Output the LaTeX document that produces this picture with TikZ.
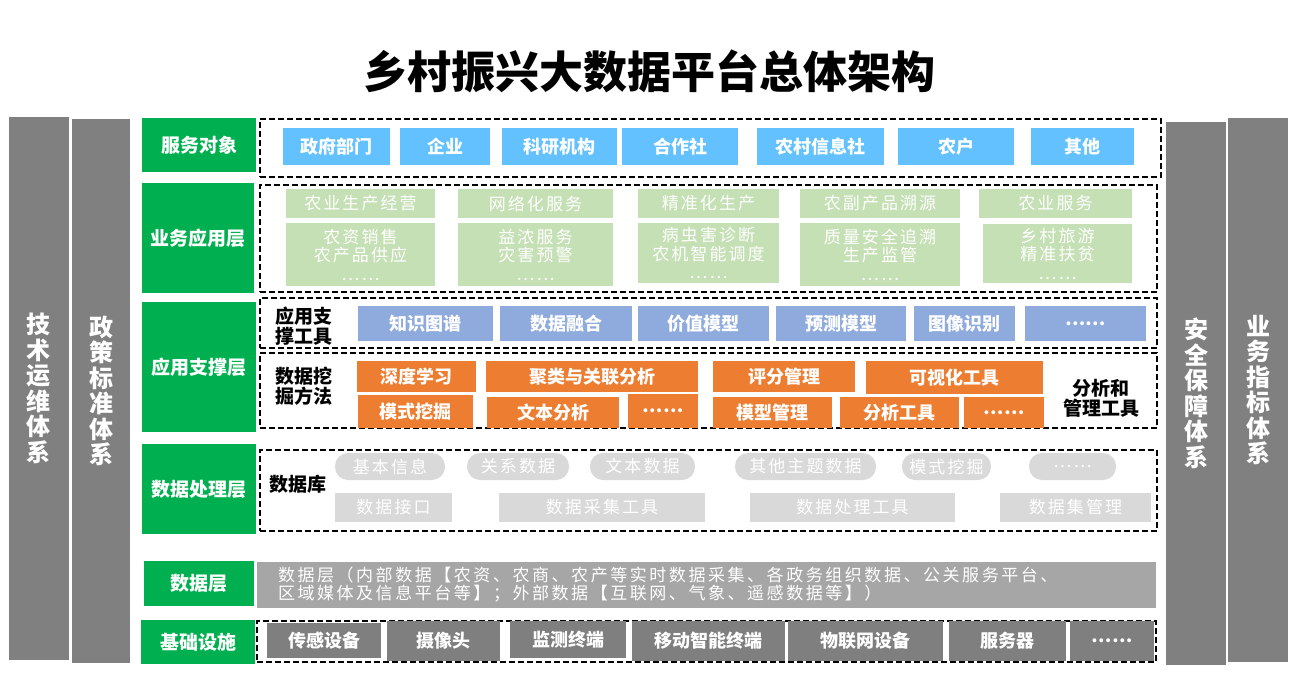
\documentclass[tikz,border=0pt]{standalone}
\usepackage{fontspec}
\setmainfont{Noto Sans CJK SC}
\newfontfamily\spaced[LetterSpace=12]{Noto Sans CJK SC}
\newfontfamily\spacedwide[LetterSpace=15]{Noto Sans CJK SC}
\definecolor{colgray}{HTML}{808080}
\definecolor{labgreen}{HTML}{00B050}
\definecolor{skyblue}{HTML}{63C1FF}
\definecolor{lgreen}{HTML}{C5E0B4}
\definecolor{bluegray}{HTML}{8FAADC}
\definecolor{orangebox}{HTML}{ED7D31}
\definecolor{pillgray}{HTML}{D9D9D9}
\definecolor{datagray}{HTML}{A6A6A6}
\definecolor{infragray}{HTML}{7F7F7F}
\tikzset{
  every node/.style={inner sep=0pt, outer sep=0pt},
  gcol/.style={fill=colgray, text=white, align=center, font=\fontsize{24}{25.5}\selectfont\bfseries},
  glab/.style={fill=labgreen, text=white, font=\fontsize{19}{21}\selectfont\bfseries},
  dbox/.style={draw=black, dash pattern=on 6pt off 3pt, line width=1.4pt},
  sbox/.style={fill=skyblue, text=white, font=\fontsize{18}{20}\selectfont\bfseries},
  lgbox/.style={fill=lgreen, text=white, align=center, font=\fontsize{17}{18.5}\selectfont\spaced},
  bgbox/.style={fill=bluegray, text=white, font=\fontsize{18}{20}\selectfont\bfseries},
  obox/.style={fill=orangebox, text=white, font=\fontsize{18}{20}\selectfont\bfseries},
  pill/.style={fill=pillgray, text=white, rounded corners=13pt, font=\fontsize{17}{19}\selectfont\spaced},
  prect/.style={fill=pillgray, text=white, font=\fontsize{17}{19}\selectfont\spaced},
  ibox/.style={fill=infragray, text=white, font=\fontsize{18}{20}\selectfont\bfseries},
  blab/.style={text=black, align=center, font=\fontsize{19}{20}\selectfont\bfseries},
}
\newcommand\mybox[7]{\node[#6, minimum width={(#4)-(#2)}, minimum height={(#5)-(#3)}] (#1) at ({((#2)+(#4))/2},{((#3)+(#5))/2}) {#7};}
\begin{document}
\begin{tikzpicture}[x=1pt,y=-1pt]
\useasboundingbox (0,0) rectangle (1294,699);
% title
\node[font=\fontsize{44}{48}\selectfont\bfseries] (title) at (649,71) {乡村振兴大数据平台总体架构};
% side columns
\mybox{c1}{9}{117}{69}{660}{gcol}{技\\术\\运\\维\\体\\系}
\mybox{c2}{72}{119}{130}{663}{gcol}{政\\策\\标\\准\\体\\系}
\mybox{c3}{1166}{122}{1226}{665}{gcol}{安\\全\\保\\障\\体\\系}
\mybox{c4}{1228}{118}{1288}{662}{gcol}{业\\务\\指\\标\\体\\系}
% green labels
\mybox{l1}{142}{118}{256}{172}{glab}{服务对象}
\mybox{l2}{142}{183}{254}{293}{glab}{业务应用层}
\mybox{l3}{142}{302}{256}{432}{glab}{应用支撑层}
\mybox{l4}{142}{444}{256}{534}{glab}{数据处理层}
\mybox{l5}{144}{561}{254}{606}{glab}{数据层}
\mybox{l6}{141}{620}{255}{664}{glab}{基础设施}
% row 1
\mybox{d1}{260}{119}{1161}{177}{dbox}{}
\mybox{s1}{283}{128}{390}{165}{sbox}{政府部门}
\mybox{s2}{400}{128}{490}{165}{sbox}{企业}
\mybox{s3}{502}{128}{617}{165}{sbox}{科研机构}
\mybox{s4}{622}{128}{738}{165}{sbox}{合作社}
\mybox{s5}{757}{128}{884}{165}{sbox}{农村信息社}
\mybox{s6}{898}{128}{1014}{165}{sbox}{农户}
\mybox{s7}{1031}{128}{1134}{165}{sbox}{其他}
% row 2
\mybox{d2}{260}{185}{1157}{292}{dbox}{}
\mybox{a1}{286}{189}{435}{218}{lgbox}{农业生产经营}
\mybox{a2}{458}{189}{613}{218}{lgbox}{网络化服务}
\mybox{a3}{638}{189}{779}{218}{lgbox}{精准化生产}
\mybox{a4}{800}{189}{960}{218}{lgbox}{农副产品溯源}
\mybox{a5}{979}{189}{1132}{218}{lgbox}{农业服务}
\mybox{b1}{286}{223}{435}{286}{lgbox}{农资销售\\农产品供应\\……}
\mybox{b2}{458}{223}{613}{286}{lgbox}{益浓服务\\灾害预警\\……}
\mybox{b3}{638}{223}{779}{283}{lgbox}{病虫害诊断\\农机智能调度\\……}
\mybox{b4}{800}{223}{960}{286}{lgbox}{质量安全追溯\\生产监管\\……}
\mybox{b5}{983}{224}{1132}{283}{lgbox}{乡村旅游\\精准扶贫\\……}
% row 3 upper
\mybox{d3}{260}{298}{1157}{348}{dbox}{}
\node[blab] (t1) at (304,326) {应用支\\撑工具};
\mybox{u1}{358}{306}{493}{341}{bgbox}{知识图谱}
\mybox{u2}{500}{306}{632}{341}{bgbox}{数据融合}
\mybox{u3}{638}{306}{769}{341}{bgbox}{价值模型}
\mybox{u4}{776}{306}{906}{341}{bgbox}{预测模型}
\mybox{u5}{914}{306}{1015}{341}{bgbox}{图像识别}
\mybox{u6}{1025}{306}{1146}{341}{bgbox}{……}
% row 3 lower
\mybox{d4}{260}{353}{1157}{428}{dbox}{}
\node[blab] (t2) at (304,386) {数据挖\\掘方法};
\mybox{o1}{357}{361}{476}{392}{obox}{深度学习}
\mybox{o2}{358}{395}{473}{428}{obox}{模式挖掘}
\mybox{o3}{486}{361}{698}{392}{obox}{聚类与关联分析}
\mybox{o4}{487}{397}{619}{428}{obox}{文本分析}
\mybox{o5}{628}{394}{698}{428}{obox}{……}
\mybox{o6}{713}{361}{855}{392}{obox}{评分管理}
\mybox{o7}{713}{397}{832}{428}{obox}{模型管理}
\mybox{o8}{866}{361}{1043}{394}{obox}{可视化工具}
\mybox{o9}{840}{397}{959}{428}{obox}{分析工具}
\mybox{o10}{964}{397}{1044}{428}{obox}{……}
\node[blab] (t3) at (1101,398) {分析和\\管理工具};
% row 4
\mybox{d5}{260}{450}{1157}{531}{dbox}{}
\node[blab] (t4) at (298,484) {数据库};
\mybox{p1}{335}{453}{445}{480}{pill}{基本信息}
\mybox{p2}{467}{453}{569}{480}{pill}{关系数据}
\mybox{p3}{590}{453}{695}{480}{pill}{文本数据}
\mybox{p4}{735}{453}{876}{480}{pill}{其他主题数据}
\mybox{p5}{902}{453}{991}{480}{pill}{模式挖掘}
\mybox{p6}{1029}{453}{1116}{480}{pill}{……}
\mybox{r1}{335}{493}{452}{522}{prect}{数据接口}
\mybox{r2}{499}{493}{705}{522}{prect}{数据采集工具}
\mybox{r3}{750}{493}{955}{522}{prect}{数据处理工具}
\mybox{r4}{1000}{493}{1151}{522}{prect}{数据集管理}
% row 5
\mybox{g1}{257}{562}{1156}{608}{fill=datagray}{}
\node[anchor=west, align=left, text=white, font=\fontsize{17}{18}\selectfont\spacedwide] (gt) at (278,585) {数据层（内部数据【农资、农商、农产等实时数据采集、各政务组织数据、公关服务平台、\\区域媒体及信息平台等】；外部数据【互联网、气象、遥感数据等】）};
% row 6
\mybox{d6}{257}{621}{1156}{662}{dbox}{}
\mybox{i1}{267}{623}{381}{658}{ibox}{传感设备}
\mybox{i2}{387}{621}{500}{661}{ibox}{摄像头}
\mybox{i3}{510}{621}{626}{658}{ibox}{监测终端}
\mybox{i4}{632}{621}{785}{661}{ibox}{移动智能终端}
\mybox{i5}{788}{621}{943}{661}{ibox}{物联网设备}
\mybox{i6}{949}{621}{1066}{661}{ibox}{服务器}
\mybox{i7}{1070}{621}{1154}{661}{ibox}{……}
\end{tikzpicture}
\end{document}
